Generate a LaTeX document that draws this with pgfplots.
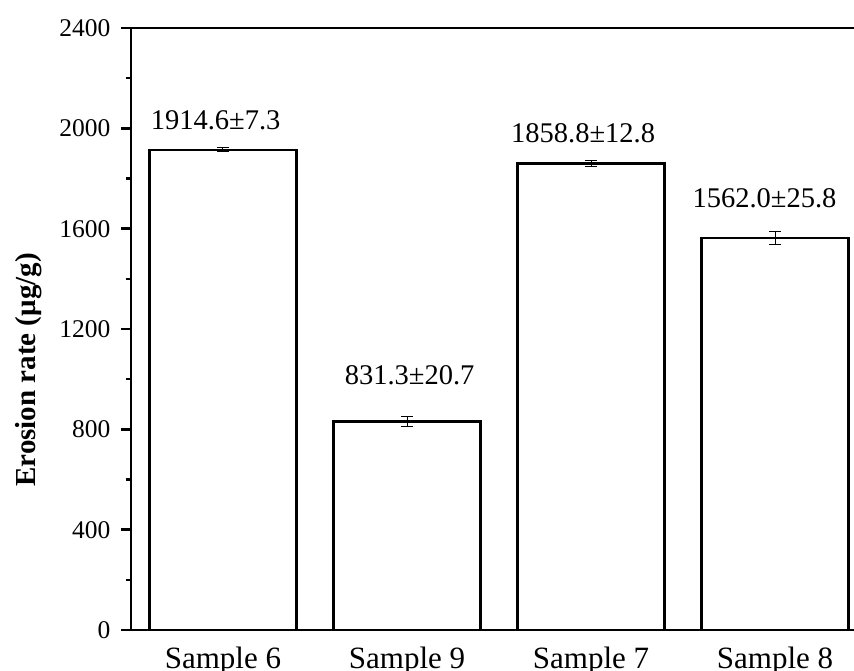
\documentclass[border=0pt]{standalone}
\usepackage{pgfplots}
\pgfplotsset{compat=1.18}
\usepackage{fontspec}
\setmainfont{Liberation Serif}

\begin{document}
\begin{tikzpicture}
\begin{axis}[
  at={(0,0)}, anchor=south west,
  scale only axis, width=736pt, height=602pt,
  xmin=-0.5, xmax=3.5, ymin=0, ymax=2400,
  axis line style={line width=2.5pt, black},
  ytick={0,400,800,1200,1600,2000,2400},
  yticklabels={0,400,800,1200,1600,2000,2400},
  minor y tick num=1,
  ytick pos=left, xtick pos=bottom, tick align=outside,
  major tick length=10pt, minor tick length=5pt,
  ytick style={line width=2.5pt, black},
  xtick style={draw=none},
  xtick={0,1,2,3}, xticklabels={Sample 6,Sample 9,Sample 7,Sample 8},
  xticklabel style={font=\fontsize{31}{36}\selectfont, anchor=base, yshift=-28pt},
  every y tick label/.append style={font=\fontsize{25.5}{30}\selectfont, xshift=-7pt},
  ylabel={Erosion rate (μg/g)},
  ylabel style={font=\bfseries\fontsize{29}{34}\selectfont, at={(axis description cs:-0.139,0.432)}, anchor=center},
  clip=false,
]
\addplot[ybar, bar width=0.8, fill=white, draw=black, line width=2.5pt,
  error bars/.cd, y dir=both, y explicit,
  error bar style={line width=1pt, black},
  error mark options={rotate=90, mark size=6pt, line width=1pt, black}]
  coordinates {(0,1914.6) +- (0,7.3) (1,831.3) +- (0,20.7) (2,1858.8) +- (0,12.8) (3,1562.0) +- (0,25.8)};
\node[anchor=base, font=\fontsize{28.5}{34}\selectfont] at (axis cs:-0.04,1993.6) {1914.6±7.3};
\node[anchor=base, font=\fontsize{28.5}{34}\selectfont] at (axis cs:1.014,977) {831.3±20.7};
\node[anchor=base, font=\fontsize{28.5}{34}\selectfont] at (axis cs:1.957,1941.6) {1858.8±12.8};
\node[anchor=base, font=\fontsize{28.5}{34}\selectfont] at (axis cs:2.943,1682.5) {1562.0±25.8};
\end{axis}
\pgfresetboundingbox
\path[use as bounding box] (-131pt,-40pt) rectangle (723pt,630pt);
\end{tikzpicture}
\end{document}
